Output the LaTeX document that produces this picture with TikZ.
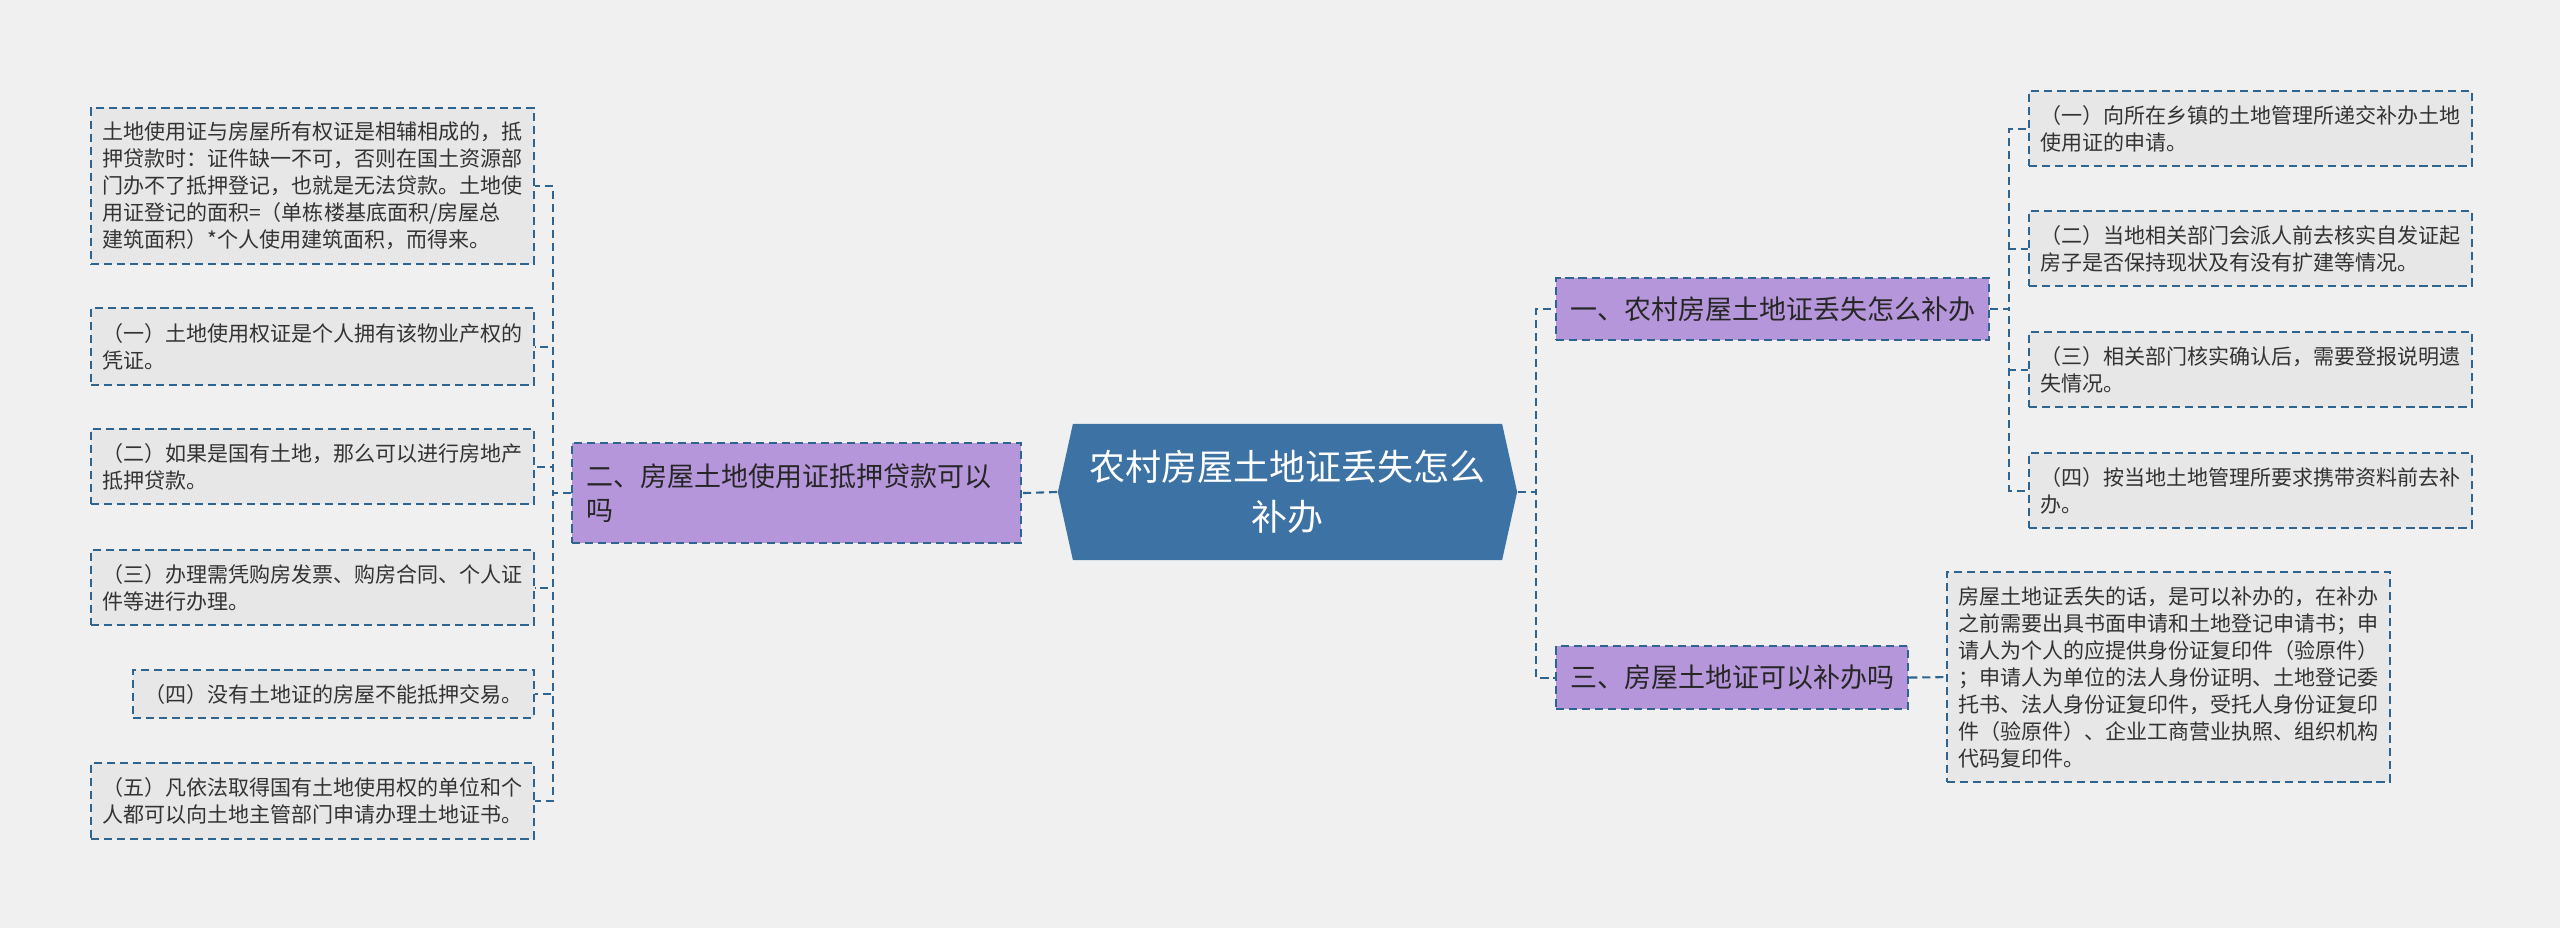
\documentclass[tikz,border=0pt]{standalone}
\usepackage{fontspec}
\setmainfont{Noto Sans CJK SC}
\usepackage{tikz}
\usetikzlibrary{positioning}
\definecolor{PageGray}{HTML}{F0F0F0}
\definecolor{LinkBlue}{HTML}{2E6490}
\definecolor{LeafGray}{HTML}{E7E7E7}
\definecolor{TopicPurple}{HTML}{B696DA}
\definecolor{CoreBlue}{HTML}{3D72A4}
\definecolor{InkGray}{HTML}{333333}

\begin{document}
\begin{tikzpicture}[
    x=0.01cm, y=-0.01cm,
    every node/.style={inner sep=0pt},
    link/.style={draw=LinkBlue, line width=0.6pt, dash pattern=on 2.3pt off 1.4pt},
    leaf/.style={link, fill=LeafGray, text=InkGray, align=left, anchor=north west, inner xsep=0.11cm, font=\fontsize{5.98pt}{7.68pt}\selectfont},
    topic/.style={link, fill=TopicPurple, text=black!85, align=left, anchor=north west, inner xsep=0.14cm, font=\fontsize{7.68pt}{9.67pt}\selectfont},
    core/.style={fill=PageGray, align=center, text=white, minimum width=4.59cm, minimum height=1.36cm, font=\fontsize{10.24pt}{14.2pt}\selectfont}
]
\fill[PageGray] (0,0) rectangle (2560,928);
\useasboundingbox (0,0) rectangle (2560,928);

\node[core, path picture={\fill[CoreBlue] (path picture bounding box.west) -- ([xshift=0.15cm]path picture bounding box.north west) -- ([xshift=-0.15cm]path picture bounding box.north east) -- (path picture bounding box.east) -- ([xshift=-0.15cm]path picture bounding box.south east) -- ([xshift=0.15cm]path picture bounding box.south west) -- cycle;}] (core) at (1287.5,492) {农村房屋土地证丢失怎么\\补办};

\node[topic, text width=4.21cm, minimum height=1.0cm] (two) at (571,442) {二、房屋土地使用证抵押贷款可以\\吗};
\node[topic, minimum height=0.62cm] (one) at (1555,277) {一、农村房屋土地证丢失怎么补办};
\node[topic, minimum height=0.63cm] (three) at (1555,645) {三、房屋土地证可以补办吗};

\node[leaf, minimum height=1.56cm] (l0) at (90,107) {土地使用证与房屋所有权证是相辅相成的，抵\\押贷款时：证件缺一不可，否则在国土资源部\\门办不了抵押登记，也就是无法贷款。土地使\\用证登记的面积=（单栋楼基底面积/房屋总\\建筑面积）*个人使用建筑面积，而得来。};
\node[leaf, minimum height=0.77cm] (l1) at (90,307) {（一）土地使用权证是个人拥有该物业产权的\\凭证。};
\node[leaf, minimum height=0.75cm] (l2) at (90,428) {（二）如果是国有土地，那么可以进行房地产\\抵押贷款。};
\node[leaf, minimum height=0.75cm] (l3) at (90,549) {（三）办理需凭购房发票、购房合同、个人证\\件等进行办理。};
\node[leaf, minimum height=0.48cm] (l4) at (132,669) {（四）没有土地证的房屋不能抵押交易。};
\node[leaf, minimum height=0.76cm] (l5) at (90,762) {（五）凡依法取得国有土地使用权的单位和个\\人都可以向土地主管部门申请办理土地证书。};

\node[leaf, minimum height=0.75cm] (r1) at (2028,90) {（一）向所在乡镇的土地管理所递交补办土地\\使用证的申请。};
\node[leaf, minimum height=0.75cm] (r2) at (2028,210) {（二）当地相关部门会派人前去核实自发证起\\房子是否保持现状及有没有扩建等情况。};
\node[leaf, minimum height=0.75cm] (r3) at (2028,331) {（三）相关部门核实确认后，需要登报说明遗\\失情况。};
\node[leaf, minimum height=0.75cm] (r4) at (2028,452) {（四）按当地土地管理所要求携带资料前去补\\办。};
\node[leaf, minimum height=2.1cm] (r5) at (1946,571) {房屋土地证丢失的话，是可以补办的，在补办\\之前需要出具书面申请和土地登记申请书；申\\请人为个人的应提供身份证复印件（验原件）\\；申请人为单位的法人身份证明、土地登记委\\托书、法人身份证复印件，受托人身份证复印\\件（验原件）、企业工商营业执照、组织机构\\代码复印件。};

\draw[link] (core.west) -- (two.east);
\draw[link] (core.east) -- ++(18,0) |- (one.west);
\draw[link] (core.east) -- ++(18,0) |- (three.west);
\foreach \n in {l0,l1,l2,l3,l4,l5}
    \draw[link] (two.west) -- ++(-18,0) |- (\n.east);
\foreach \n in {r1,r2,r3,r4}
    \draw[link] (one.east) -- ++(19,0) |- (\n.west);
\draw[link] (three.east) -- (r5.west);
\end{tikzpicture}
\end{document}
